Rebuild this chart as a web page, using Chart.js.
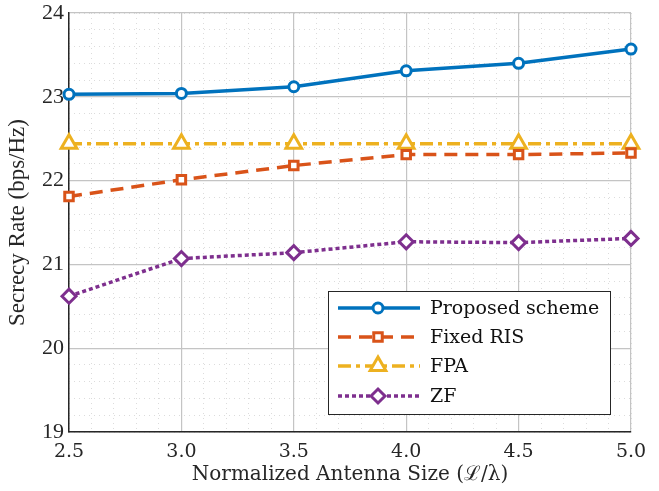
<!DOCTYPE html>
<html>
<head>
<meta charset="utf-8">
<script src="https://cdn.jsdelivr.net/npm/chart.js@4"></script>
<style>
  body { margin: 0; background: #fff; }
  #wrap { width: 659px; height: 491px; position: relative; }
</style>
</head>
<body>
<div id="wrap"><canvas id="c"></canvas></div>
<script>
// antenna size L/lambda
const antennaSize = [2.5, 3.0, 3.5, 4.0, 4.5, 5.0];
const proposed = [23.03, 23.04, 23.12, 23.31, 23.40, 23.57];
const fixedRIS = [21.81, 22.01, 22.18, 22.31, 22.31, 22.33];
const fpa = [22.44, 22.44, 22.44, 22.44, 22.44, 22.44];
const zf = [20.62, 21.07, 21.14, 21.27, 21.26, 21.31];
const seriesNames = ['Proposed scheme', 'Fixed RIS', 'FPA', 'ZF'];

const TIMES = "'Liberation Serif', serif";
const CM = "'DejaVu Serif', serif";

function pts(ys) {
  return antennaSize.map((x, i) => ({ x: x, y: ys[i] }));
}

function ds(label, ys, color, dash, shape, r) {
  return {
    label: label,
    data: pts(ys),
    borderColor: color,
    backgroundColor: '#fff',
    borderWidth: 3.5,
    borderDash: dash,
    pointStyle: shape,
    pointRadius: r,
    pointBorderWidth: 3,
    pointBackgroundColor: '#fff',
    pointBorderColor: color,
    tension: 0,
    clip: false
  };
}

// legend drawn inside the plot area, like the MATLAB box
const boxLegend = {
  id: 'boxLegend',
  afterDraw(chart) {
    const ctx = chart.ctx;
    const x0 = 328, y0 = 291, w = 282, h = 123;
    ctx.save();
    ctx.fillStyle = '#fff';
    ctx.fillRect(x0, y0, w, h);
    ctx.strokeStyle = '#262626';
    ctx.lineWidth = 1;
    ctx.strokeRect(x0 + 0.5, y0 + 0.5, w, h);
    const rows = [308, 337, 366, 396];
    chart.data.datasets.forEach((d, i) => {
      const y = rows[i];
      ctx.strokeStyle = d.borderColor;
      ctx.lineWidth = d.borderWidth;
      ctx.setLineDash(d.borderDash || []);
      ctx.beginPath();
      ctx.moveTo(x0 + 10, y);
      ctx.lineTo(x0 + 92, y);
      ctx.stroke();
      ctx.setLineDash([]);
      ctx.lineWidth = d.pointBorderWidth;
      ctx.fillStyle = '#fff';
      ctx.strokeStyle = d.borderColor;
      Chart.helpers.drawPoint(ctx, {
        pointStyle: d.pointStyle,
        radius: d.pointRadius,
        borderWidth: d.pointBorderWidth,
        rotation: 0
      }, x0 + 50, y);
      ctx.fillStyle = '#111';
      ctx.font = '19px ' + CM;
      ctx.textBaseline = 'middle';
      ctx.fillText(d.label, x0 + 102, y + 1);
    });
    ctx.restore();
  }
};

new Chart(document.getElementById('c'), {
  type: 'line',
  data: {
    datasets: [
      ds(seriesNames[0], proposed, '#0072BD', [], 'circle', 5),
      ds(seriesNames[1], fixedRIS, '#D95319', [13, 8], 'rect', 6),
      ds(seriesNames[2], fpa, '#EDB120', [13, 5, 4, 5], 'triangle', 9),
      ds(seriesNames[3], zf, '#7E2F8E', [4, 3], 'rectRot', 7)
    ]
  },
  options: {
    responsive: true,
    maintainAspectRatio: false,
    animation: false,
    layout: { padding: { left: 0, top: 13, right: 28, bottom: 0 } },
    plugins: { legend: { display: false }, tooltip: { enabled: false } },
    scales: {
      xMinor: {
        type: 'linear', position: 'top', min: 2.5, max: 5,
        ticks: { display: false, stepSize: 0.1 },
        grid: { color: '#dcdcdc', lineWidth: 1, drawTicks: false },
        border: { display: false, dash: [1, 4] },
        afterFit(s) { s.height = 0; }
      },
      yMinor: {
        type: 'linear', position: 'right', min: 19, max: 24,
        ticks: { display: false, stepSize: 0.2 },
        grid: { color: '#dcdcdc', lineWidth: 1, drawTicks: false },
        border: { display: false, dash: [1, 4] },
        afterFit(s) { s.width = 0; }
      },
      x: {
        type: 'linear', min: 2.5, max: 5,
        ticks: {
          stepSize: 0.5, color: '#262626', padding: 9,
          font: { family: CM, size: 19 },
          callback: v => v.toFixed(1)
        },
        grid: { color: '#c4c4c4', lineWidth: 1.2, drawTicks: false },
        border: { color: '#262626', width: 1.5 },
        title: {
          display: true, text: 'Normalized Antenna Size (\u2112/\u03bb)',
          color: '#262626', font: { family: CM, size: 20 }, padding: { top: 0 }
        },
        afterFit(s) { s.height = 59; s.paddingLeft = 0; s.paddingRight = 0; }
      },
      y: {
        type: 'linear', min: 19, max: 24,
        ticks: {
          stepSize: 1, color: '#262626', padding: 5,
          font: { family: TIMES, size: 22 }
        },
        grid: { color: '#c4c4c4', lineWidth: 1.2, drawTicks: false },
        border: { color: '#262626', width: 1.5 },
        title: {
          display: true, text: 'Secrecy Rate (bps/Hz)',
          color: '#262626', font: { family: TIMES, size: 23 }, padding: { bottom: 1 }
        },
        afterFit(s) { s.width = 69; s.paddingTop = 0; s.paddingBottom = 0; }
      }
    }
  },
  plugins: [boxLegend]
});
</script>
</body>
</html>
